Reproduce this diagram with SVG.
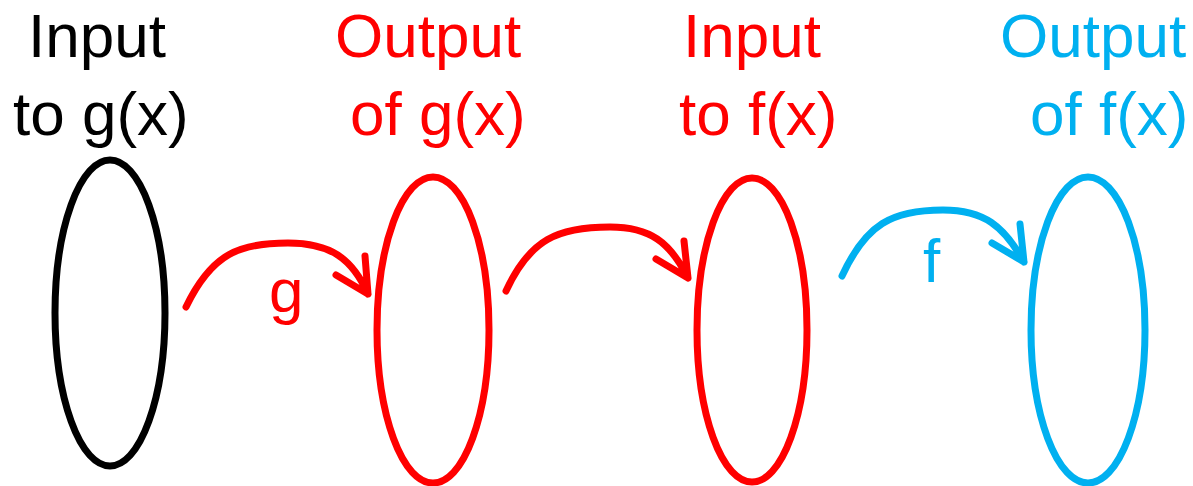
<svg xmlns="http://www.w3.org/2000/svg" width="1193" height="486" viewBox="0 0 1193 486">
<style>
text{font-family:"Liberation Sans",Arial,sans-serif;font-size:62px}
.k{fill:#000}.r{fill:#FF0000}.b{fill:#00B0F0}
.e{fill:none;stroke-width:7}
.c{fill:none;stroke-width:7;stroke-linecap:round;stroke-linejoin:round}
</style>
<rect width="1193" height="486" fill="#fff"/>
<g id="n1">
<text class="k" x="28" y="57">Input</text>
<text class="k" x="13" y="135">to g(x)</text>
<ellipse class="e" stroke="#000" cx="110" cy="313" rx="55" ry="153"/>
</g>
<g id="n2">
<text class="r" x="335" y="57">Output</text>
<text class="r" x="350" y="135">of g(x)</text>
<ellipse class="e" stroke="#FF0000" cx="433" cy="330" rx="56" ry="153"/>
</g>
<g id="n3">
<text class="r" x="683" y="57">Input</text>
<text class="r" x="679" y="135">to f(x)</text>
<ellipse class="e" stroke="#FF0000" cx="752" cy="330" rx="55" ry="152"/>
</g>
<g id="n4">
<text class="b" x="1000" y="57">Output</text>
<text class="b" x="1030" y="135">of f(x)</text>
<ellipse class="e" stroke="#00B0F0" cx="1088" cy="330" rx="57" ry="153"/>
</g>
<g id="connectors">
<path class="c" stroke="#FF0000" d="M186,307 C212,253 240,243 288,243 C330,243 352,258 368,294 M365,256 L368,294 L336,275"/>
<text class="r" x="269" y="312">g</text>
<path class="c" stroke="#FF0000" d="M506,291 C530,239 558,227 610,227 C650,227 670,242 688,278 M684,241 L688,278 L656,259"/>
<path class="c" stroke="#00B0F0" d="M842,276 C866,224 892,210 943,210 C984,210 1004,226 1024,262 M1020,224 L1024,262 L992,243"/>
<text class="b" x="923" y="282">f</text>
</g>
</svg>
